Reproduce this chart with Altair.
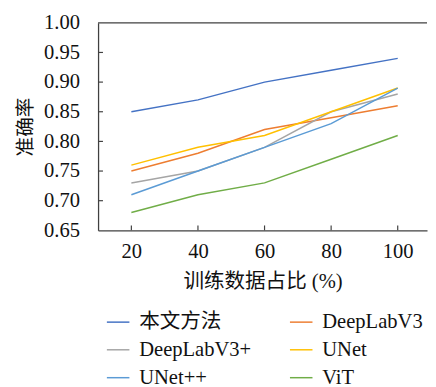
import altair as alt
import pandas as pd

pct = [20, 40, 60, 80, 100]
models = ["本文方法", "DeepLabV3", "DeepLabV3+", "UNet", "UNet++", "ViT"]
colors = ["#4472C4", "#ED7D31", "#A5A5A5", "#FFC000", "#5B9BD5", "#70AD47"]
acc_ours = [0.85, 0.87, 0.90, 0.92, 0.94]
acc_dlv3 = [0.75, 0.78, 0.82, 0.84, 0.86]
acc_dlv3p = [0.73, 0.75, 0.79, 0.85, 0.88]
acc_unet = [0.76, 0.79, 0.81, 0.85, 0.89]
acc_unetpp = [0.71, 0.75, 0.79, 0.83, 0.89]
acc_vit = [0.68, 0.71, 0.73, 0.77, 0.81]
y_ticks = [0.65, 0.70, 0.75, 0.80, 0.85, 0.90, 0.95, 1.00]
y_inner_ticks = [0.70, 0.75, 0.80, 0.85, 0.90, 0.95]

series = [acc_ours, acc_dlv3, acc_dlv3p, acc_unet, acc_unetpp, acc_vit]
rows = []
for m, vals in zip(models, series):
    for p, v in zip(pct, vals):
        rows.append({"pct": p, "acc": v, "model": m})
df = pd.DataFrame(rows)

W, H = 336, 212
FONT = "Liberation Serif, Noto Sans CJK SC"
NUMFONT = "Liberation Serif"
FRAME = "#404040"
TXT = "#111111"

xs = alt.Scale(domain=[10, 108.8], nice=False, zero=False)
ys = alt.Scale(domain=[0.65, 1.0], nice=False, zero=False)

xaxis = alt.Axis(values=pct, ticks=False, labelPadding=11, titlePadding=9,
                 grid=False, domainColor=FRAME, domainWidth=1.3,
                 labelFont=NUMFONT, labelFontSize=21, labelColor=TXT,
                 titleFont=FONT, titleFontSize=21, titleFontWeight="normal",
                 titleColor=TXT, labelOverlap=False)
yaxis = alt.Axis(values=y_ticks, format=".2f", ticks=False, labelPadding=19,
                 titlePadding=8, grid=False, domainColor=FRAME, domainWidth=1.3,
                 labelFont=NUMFONT, labelFontSize=21, labelColor=TXT,
                 titleFont=FONT, titleFontSize=20, titleFontWeight="normal",
                 titleColor=TXT, labelOverlap=False, labelBound=False,
                 labelFlush=False)
XT = "训练数据占比 (%)"
YT = "准确率"

lines = alt.Chart(df).mark_line(strokeWidth=1.5).encode(
    x=alt.X("pct:Q", scale=xs, title=XT, axis=xaxis),
    y=alt.Y("acc:Q", scale=ys, title=YT, axis=yaxis),
    color=alt.Color("model:N", scale=alt.Scale(domain=models, range=colors),
                    sort=models,
                    legend=alt.Legend(title=None, orient="none", legendX=8, legendY=293,
                                      direction="horizontal",
                                      columns=2, columnPadding=35, rowPadding=5.5,
                                      symbolType="stroke", symbolSize=530,
                                      symbolStrokeWidth=1.5, labelOffset=9,
                                      labelFont=FONT, labelFontSize=21,
                                      labelColor=TXT, padding=0)),
)

ytick_df = pd.DataFrame({"acc": y_inner_ticks})
yticks = alt.Chart(ytick_df).mark_rule(color=FRAME, strokeWidth=1.2).encode(
    y=alt.Y("acc:Q", scale=ys, title=YT, axis=yaxis), x=alt.value(0), x2=alt.value(5)
)
xtick_df = pd.DataFrame({"pct": pct})
xticks = alt.Chart(xtick_df).mark_rule(color=FRAME, strokeWidth=1.2).encode(
    x=alt.X("pct:Q", scale=xs, title=XT, axis=xaxis), y=alt.value(H), y2=alt.value(H - 5)
)
top = alt.Chart(pd.DataFrame({"a": [0]})).mark_rule(color=FRAME, strokeWidth=1.3).encode(
    x=alt.value(0), x2=alt.value(W), y=alt.value(0)
)

chart = alt.layer(lines, yticks, xticks, top).properties(
    width=W, height=H, padding={"left": 8, "top": 0, "right": 0, "bottom": 0}
).configure(font=FONT).configure_view(stroke=None)

chart.save("out.html", embed_options={"renderer": "svg", "actions": False})
